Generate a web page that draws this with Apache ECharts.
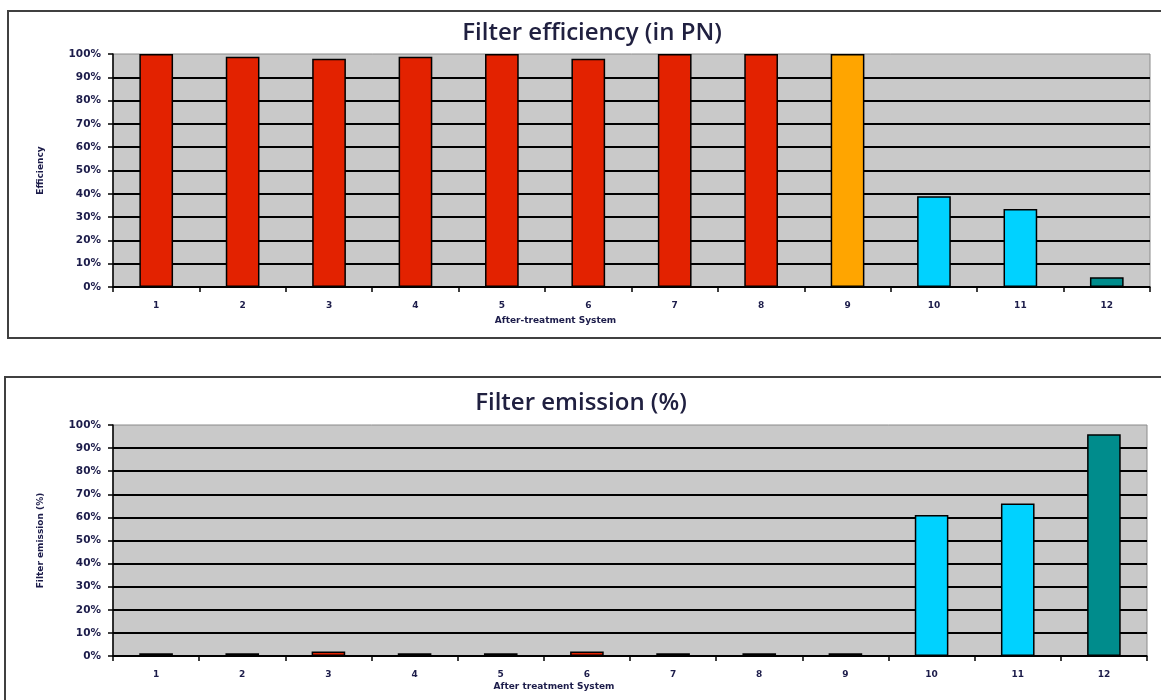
<!DOCTYPE html>
<html>
<head>
<meta charset="utf-8">
<script src="https://cdn.jsdelivr.net/npm/echarts@6/dist/echarts.min.js"></script>
<style>
  html, body { margin: 0; padding: 0; background: #fff; }
  #chart { width: 1161px; height: 700px; }
</style>
</head>
<body>
<div id="chart"></div>
<script>
const categories = ['1', '2', '3', '4', '5', '6', '7', '8', '9', '10', '11', '12']
const efficiency = [100, 98.8, 98, 98.8, 100, 98, 100, 100, 100, 39, 33.5, 4.2]
const emission = [1.2, 1.2, 2, 1.2, 1.2, 2, 1.2, 1.2, 1.2, 61, 66, 96]
const effColors = ['#e32200', '#e32200', '#e32200', '#e32200', '#e32200', '#e32200', '#e32200', '#e32200', '#ffa500', '#00d2ff', '#00d2ff', '#008c8c']
const emiColors = ['#e32200', '#e32200', '#e32200', '#e32200', '#e32200', '#e32200', '#e32200', '#e32200', '#e32200', '#00d2ff', '#00d2ff', '#008c8c']

const labelColor = '#1c1c4a'
const labelFont = { color: labelColor, fontFamily: 'DejaVu Sans', fontWeight: 'bold', fontSize: 10 }

function xAxisOf(gridIndex, name, gap) {
  return {
    type: 'category',
    gridIndex,
    data: categories,
    name,
    nameLocation: 'middle',
    nameGap: gap,
    nameTextStyle: { ...labelFont, fontSize: 9, padding: [0, 152, 0, 0] },
    axisLine: { lineStyle: { color: '#000', width: 1.5 } },
    axisTick: { show: true, length: 5, lineStyle: { color: '#000', width: 1.5 } },
    axisLabel: { ...labelFont, fontSize: 9, margin: 14 },
    splitLine: { show: false },
  }
}

function yAxisOf(gridIndex, name) {
  return {
    type: 'value',
    gridIndex,
    min: 0,
    max: 100,
    interval: 10,
    name,
    nameLocation: 'middle',
    nameGap: 68,
    nameTextStyle: { ...labelFont, fontSize: 9 },
    axisLine: { show: true, lineStyle: { color: '#000', width: 1.5 } },
    axisTick: { show: true, length: 5, lineStyle: { color: '#000', width: 1.5 } },
    axisLabel: { ...labelFont, fontSize: 10.5, margin: 12, formatter: '{value}%' },
    splitLine: { show: true, showMaxLine: false, lineStyle: { color: '#000', width: 1.8 } },
  }
}

function barSeries(index, values, colors) {
  return {
    type: 'bar',
    xAxisIndex: index,
    yAxisIndex: index,
    barWidth: '39%',
    data: values.map((v, i) => ({
      value: v,
      itemStyle: { color: colors[i], borderColor: '#000', borderWidth: 1.5 },
    })),
  }
}

const titleStyle = { fontFamily: 'Open Sans', fontSize: 24, fontWeight: 600, color: '#202040' }

const option = {
  animation: false,
  title: [
    { text: 'Filter efficiency (in PN)', left: 587, top: 16, textAlign: 'center', textStyle: titleStyle },
    { text: 'Filter emission (%)', left: 576, top: 386, textAlign: 'center', textStyle: titleStyle },
  ],
  graphic: [
    { type: 'rect', shape: { x: 8, y: 11, width: 1170, height: 327 }, style: { fill: 'none', stroke: '#404040', lineWidth: 2 }, z: -1 },
    { type: 'rect', shape: { x: 5, y: 377, width: 1170, height: 340 }, style: { fill: 'none', stroke: '#404040', lineWidth: 2 }, z: -1 },
  ],
  grid: [
    { left: 113, top: 54, right: 11, height: 233, show: true, backgroundColor: '#c9c9c9', borderColor: '#8a8a8a', borderWidth: 1 },
    { left: 113, top: 425, right: 14, height: 231, show: true, backgroundColor: '#c9c9c9', borderColor: '#8a8a8a', borderWidth: 1 },
  ],
  xAxis: [xAxisOf(0, 'After-treatment System', 29), xAxisOf(1, 'After treatment System', 26)],
  yAxis: [yAxisOf(0, 'Efficiency'), yAxisOf(1, 'Filter emission (%)')],
  series: [barSeries(0, efficiency, effColors), barSeries(1, emission, emiColors)],
}

const myChart = echarts.init(document.getElementById('chart'))
myChart.setOption(option)
</script>
</body>
</html>
